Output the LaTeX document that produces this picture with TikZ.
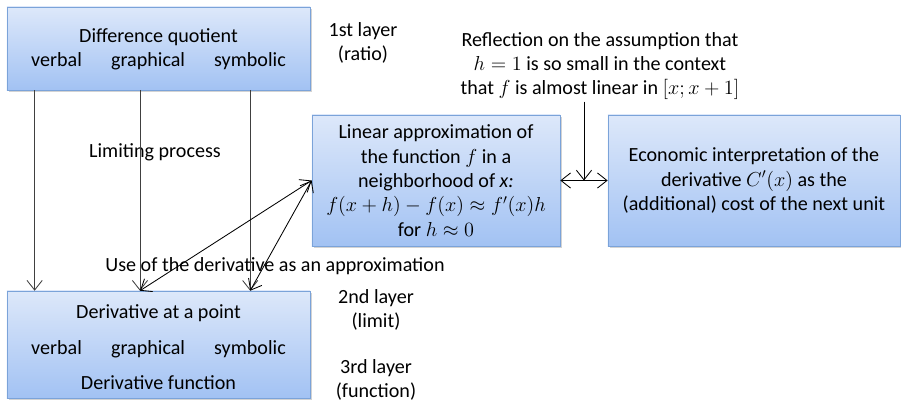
\documentclass[tikz,border=0pt]{standalone}
\usepackage{fontspec}
\setmainfont{Carlito}
\usetikzlibrary{arrows.meta,positioning,calc,shadows}
\definecolor{BoxTop}{HTML}{DDE8FA}
\definecolor{BoxBottom}{HTML}{A2C2F3}
\definecolor{BoxLine}{HTML}{7BA3D9}
\definecolor{LineGrey}{HTML}{404040}

\begin{document}
\begin{tikzpicture}[
    x=0.025cm,y=-0.025cm,
    font=\fontsize{14.3pt}{17.3pt}\selectfont,
    gbox/.style={draw=BoxLine,top color=BoxTop,bottom color=BoxBottom,align=center,
      inner sep=0pt,drop shadow={shadow xshift=1.2pt,shadow yshift=-1.2pt,opacity=0.35}},
    lbl/.style={align=center,inner sep=1pt},
    arr/.style={-{Straight Barb[length=2.4mm,width=3.8mm]},line width=0.6pt,LineGrey},
    darr/.style={{Straight Barb[length=2.4mm,width=3.8mm]}-{Straight Barb[length=2.4mm,width=3.8mm]},line width=0.6pt,black},
  ]
  \useasboundingbox (0,0) rectangle (901,403);
  % Boxes
  \node[gbox,minimum width=7.575cm,minimum height=2.075cm] (dq) at (158.5,48.5)
    {\rule{0pt}{4mm}Difference quotient\\verbal\hspace{1.45em}graphical\hspace{1.45em}symbolic};
  \node[gbox,minimum width=7.575cm,minimum height=2.675cm] (dp) at (158.5,344.5)
    {\rule{0pt}{5mm}Derivative at a point\\[0.28cm]verbal\hspace{1.45em}graphical\hspace{1.45em}symbolic\\[0.28cm]Derivative function};
  \node[gbox,minimum width=6.2cm,minimum height=3.275cm] (la) at (436,180.5)
    {Linear approximation of\\the function $f$ in a\\neighborhood of \textit{x:}\\$f(x+h)-f(x)\approx f'(x)h$\\for $h\approx 0$};
  \node[gbox,minimum width=7.3cm,minimum height=3.275cm] (ei) at (754,180.5)
    {Economic interpretation of the\\derivative $C'(x)$ as the\\(additional) cost of the next unit};
  % Free labels
  \node[lbl] (l1) at (363,43) {1st layer\\(ratio)};
  \node[lbl] (l2) at (376,310) {2nd layer\\(limit)};
  \node[lbl] (l3) at (376,380) {3rd layer\\(function)};
  \node[lbl] (lim) at (155,152) {Limiting process};
  \node[lbl] (use) at (275,266) {Use of the derivative as an approximation};
  \node[lbl] (refl) at (600,66)
    {Reflection on the assumption that\\$h=1$ is so small in the context\\that $f$ is almost linear in $[x;x+1]$};
  % Connectors
  \foreach \p in {0.092,0.439,0.802}
    \draw[arr] ($(dq.south west)!\p!(dq.south east)$) -- ($(dp.north west)!\p!(dp.north east)$);
  \draw[darr] ($(dp.north west)!0.439!(dp.north east)$) -- (la.west);
  \draw[darr] ($(dp.north west)!0.802!(dp.north east)$) -- (la.west);
  \draw[darr] (la.east) -- coordinate (mid) (ei.west);
  \coordinate (rtop) at (mid |- refl.south);
  \draw[arr,black] (rtop) -- (mid);
\end{tikzpicture}
\end{document}
